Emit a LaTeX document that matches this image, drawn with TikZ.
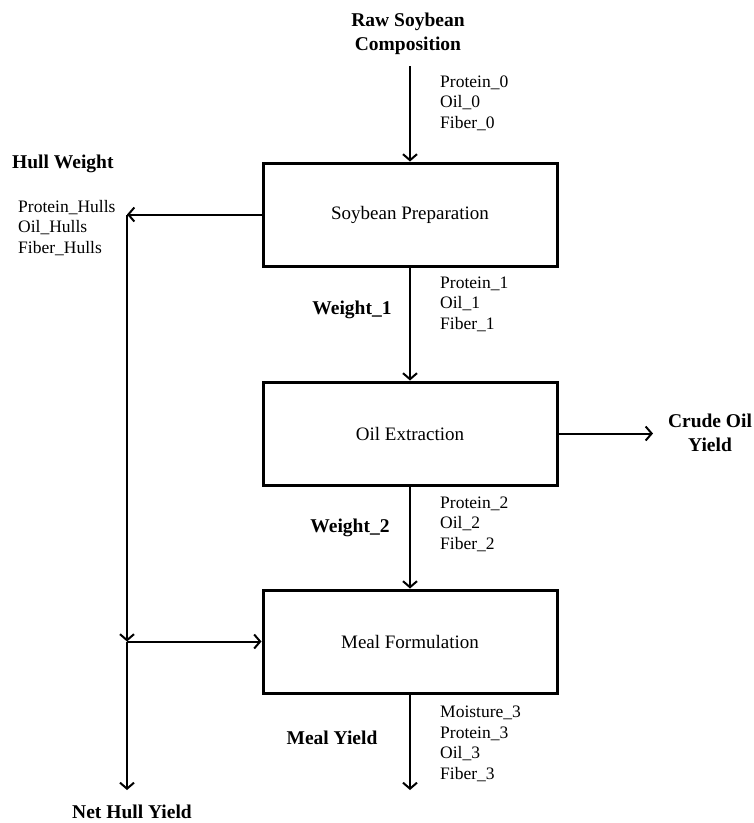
\documentclass[tikz,border=0pt]{standalone}
\usepackage{fontspec}
\setmainfont{Liberation Serif}
\usetikzlibrary{arrows.meta, positioning}

\tikzset{
  procbox/.style={rectangle,draw=black,line width=3pt,minimum width=294pt,minimum height=103pt,inner sep=0pt,font=\fontsize{19}{23}\selectfont},
  flow/.style={-{Straight Barb[length=6pt,width=14pt]},line width=2pt},
  compo/.style={anchor=west,align=left,inner sep=0pt,font=\fontsize{17.5}{20.5}\selectfont},
  streamlbl/.style={align=center,inner sep=0pt,font=\fontsize{19.5}{24}\selectfont\bfseries}
}

\begin{document}
\begin{tikzpicture}[x=1pt,y=-1pt]
    \useasboundingbox (0,0) rectangle (754,823);

    % Blocchi di processo
    \node[procbox] (prep) at (410,214.5) {Soybean Preparation};
    \node[procbox] (extr) at (410,433.5) {Oil Extraction};
    \node[procbox] (meal) at (410,641.5) {Meal Formulation};

    % Punti liberi
    \coordinate (rawin) at (410,66);
    \coordinate (hull) at (127,214.5);
    \coordinate (hulljoin) at (127,641.5);
    \coordinate (netout) at (127,790);
    \coordinate (oilout) at (653,433.5);
    \coordinate (mealout) at (410,790);

    % Etichette delle correnti
    \node[streamlbl] (rawlbl) at (408,34) {Raw Soybean\\Composition};
    \node[compo] (comp0) at (440,103) {Protein\_0\\Oil\_0\\Fiber\_0};
    \node[streamlbl,anchor=west] (hulllbl) at (12,164) {Hull Weight};
    \node[compo] (comphull) at (18,228) {Protein\_Hulls\\Oil\_Hulls\\Fiber\_Hulls};
    \node[streamlbl] (w1lbl) at (352,310) {Weight\_1};
    \node[compo] (comp1) at (440,304) {Protein\_1\\Oil\_1\\Fiber\_1};
    \node[streamlbl] (oillbl) at (710,433) {Crude Oil\\Yield};
    \node[streamlbl] (w2lbl) at (350,528) {Weight\_2};
    \node[compo] (comp2) at (440,524) {Protein\_2\\Oil\_2\\Fiber\_2};
    \node[streamlbl] (meallbl) at (332,738) {Meal Yield};
    \node[compo] (comp3) at (440,744) {Moisture\_3\\Protein\_3\\Oil\_3\\Fiber\_3};
    \node[streamlbl] (netlbl) at (132,812) {Net Hull Yield};

    % Connessioni
    \draw[flow] (rawin) -- (prep);
    \draw[flow] (prep) -- (extr);
    \draw[flow] (extr) -- (meal);
    \draw[flow] (meal) -- (mealout);
    \draw[flow] (extr) -- (oilout);
    \draw[flow] (prep) -- (hull);
    \draw[flow] (hull) -- (hulljoin);
    \draw[flow] (hulljoin) -- (meal);
    \draw[flow] (hulljoin) -- (netout);
\end{tikzpicture}
\end{document}
